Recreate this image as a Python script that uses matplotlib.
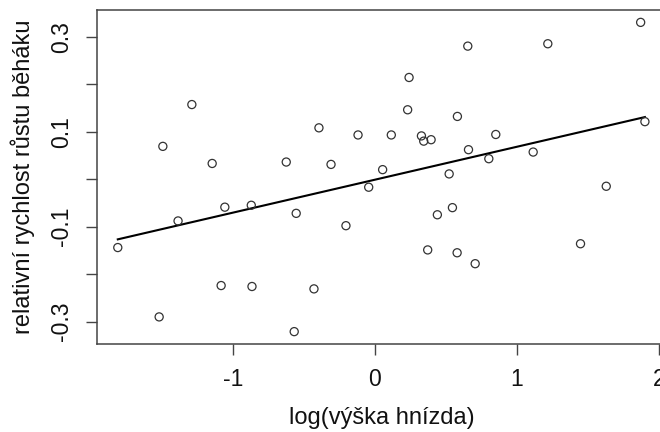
import numpy as np
import matplotlib
matplotlib.use("Agg")
import matplotlib.pyplot as plt

plt.rcParams['font.family'] = ['Liberation Sans', 'DejaVu Sans']

# log(nest height) and relative growth rate
log_vyska = [1.869, 0.653, 1.216, 0.240, -1.288, 0.230, 0.580, 1.899, -0.394,
             0.115, 0.327, 0.343, 0.395, 0.850, -0.119, -1.492, 0.658, 1.113,
             0.801, -0.624, -1.145, -0.309, 0.054, 0.522, -0.044, 1.627,
             -1.056, -0.870, 0.545, -1.385, -0.554, 0.439, -0.204, -1.809,
             1.446, 0.371, 0.578, 0.705, -1.082, -0.865, -0.429, -1.518, -0.568]
rychlost = [0.330, 0.280, 0.285, 0.214, 0.157, 0.146, 0.132, 0.121, 0.108,
            0.093, 0.091, 0.080, 0.083, 0.094, 0.093, 0.069, 0.062, 0.057,
            0.043, 0.036, 0.033, 0.031, 0.020, 0.011, -0.017, -0.015,
            -0.059, -0.055, -0.060, -0.088, -0.072, -0.075, -0.098, -0.144,
            -0.136, -0.149, -0.155, -0.178, -0.224, -0.226, -0.231, -0.290, -0.321]

x_ticks = [-1, 0, 1, 2]
x_ticklabels = ["-1", "0", "1", "2"]
y_ticks = [-0.3, -0.2, -0.1, 0.0, 0.1, 0.2, 0.3]
y_ticklabels = ["-0.3", "", "-0.1", "", "0.1", "", "0.3"]

x = np.array(log_vyska)
y = np.array(rychlost)

W, H = 660, 432
fig = plt.figure(figsize=(W / 100, H / 100), dpi=100)
left_px, right_px, top_px, bottom_px = 96.7, 666, 10, 344
ax = fig.add_axes([left_px / W, 1 - bottom_px / H,
                   (right_px - left_px) / W, (bottom_px - top_px) / H])

ax.scatter(x, y, s=34, facecolors='none', edgecolors='#333333', linewidths=0.9, zorder=3)

b, a = np.polyfit(x, y, 1)
xs = np.array([x.min(), x.max()])
ax.plot(xs, a + b * xs, color='black', lw=1.5, zorder=2)

# R-style 4% expansion
xr = x.max() - x.min()
yr = y.max() - y.min()
ax.set_xlim(x.min() - 0.04 * xr, x.max() + 0.04 * xr)
ax.set_ylim(y.min() - 0.04 * yr, y.max() + 0.04 * yr)

ax.set_xticks(x_ticks)
ax.set_xticklabels(x_ticklabels)
ax.set_yticks(y_ticks)
ax.set_yticklabels(y_ticklabels, rotation=90, va='center')

for sp in ax.spines.values():
    sp.set_color('#444444')
    sp.set_linewidth(1.1)

ax.tick_params(axis='both', length=8, width=1.0, color='#444444',
               labelsize=16.5, labelcolor='#111111', pad=9)

ax.set_xlabel('log(výška hnízda)', fontsize=17, color='#111111')
ax.set_ylabel('relativní rychlost růstu běháku', fontsize=17, color='#111111')
ax.xaxis.set_label_coords(0.5, -0.19)
ax.yaxis.set_label_coords(-0.108, 0.5)

fig.savefig('out.png', dpi=100)
